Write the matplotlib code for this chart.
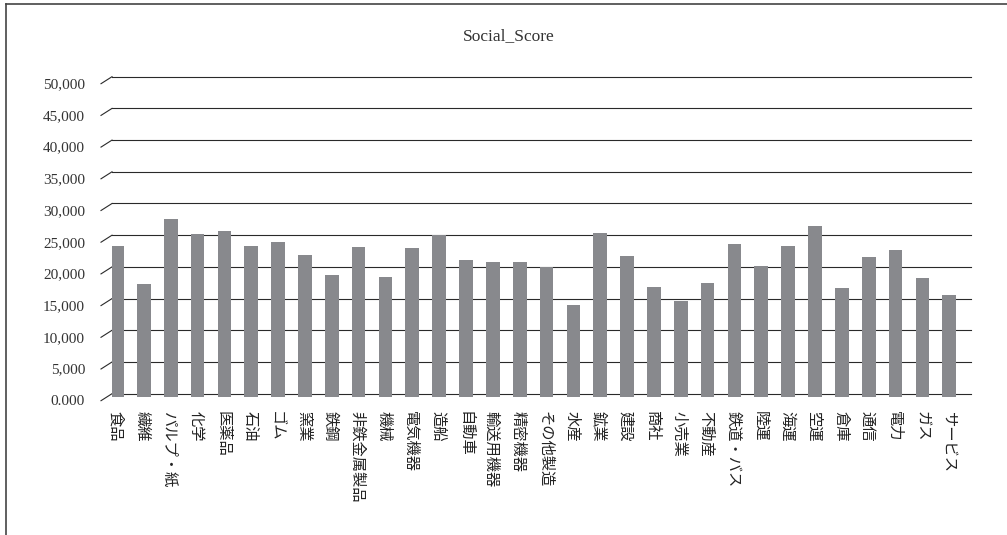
import matplotlib
matplotlib.use("Agg")
import matplotlib.pyplot as plt
from matplotlib.lines import Line2D
from matplotlib.transforms import offset_copy
import numpy as np

# Industry names and their social scores
industries = ["食品", "繊維", "パルプ・紙", "化学", "医薬品", "石油", "ゴム", "窯業",
              "鉄鋼", "非鉄金属製品", "機械", "電気機器", "造船", "自動車", "輸送用機器",
              "精密機器", "その他製造", "水産", "鉱業", "建設", "商社", "小売業", "不動産",
              "鉄道・バス", "陸運", "海運", "空運", "倉庫", "通信", "電力", "ガス", "サービス"]
social_score = [23.9, 17.9, 28.1, 25.7, 26.2, 23.9, 24.5, 22.5,
                19.3, 23.7, 19.0, 23.6, 25.6, 21.7, 21.4,
                21.4, 20.6, 14.6, 25.9, 22.3, 17.4, 15.2, 18.0,
                24.2, 20.7, 23.9, 27.0, 17.3, 22.1, 23.2, 18.8, 16.1]

y_ticks = [0, 5, 10, 15, 20, 25, 30, 35, 40, 45, 50]
y_tick_labels = ["0.000", "5,000", "10,000", "15,000", "20,000", "25,000",
                 "30,000", "35,000", "40,000", "45,000", "50,000"]

W, H = 1007, 535
fig = plt.figure(figsize=(W / 100, H / 100), dpi=100)

# back wall of the pseudo-3D chart, in pixels
ax_left, ax_right = 112, 971
zero_px = 397.4          # bar baseline from the top
px_per_unit = 6.34
y_top = 51
ax = fig.add_axes([ax_left / W, (H - zero_px) / H,
                   (ax_right - ax_left) / W, y_top * px_per_unit / H])
ax_w = ax_right - ax_left

x = np.arange(len(industries))
ax.bar(x, social_score, width=0.51, color="#88898d", zorder=3)
ax.set_xlim(-0.186, 31.81)
ax.set_ylim(0, y_top)

# gridlines sit on the back wall, a few pixels above the bars' plane
grid_tf = offset_copy(ax.get_yaxis_transform(), fig=fig, x=0, y=3.7, units="dots")
depth_x, depth_y = 11 / ax_w, 7 / px_per_unit
for v, lab in zip(y_ticks, y_tick_labels):
    ax.plot([0, 1], [v, v], color="#2a2a2a", lw=0.8, transform=grid_tf, zorder=1,
            clip_on=False)
    ax.plot([-depth_x, 0], [v - depth_y, v], color="#2a2a2a", lw=0.8,
            transform=grid_tf, clip_on=False)
    ax.text(-27 / ax_w, v - 8 / px_per_unit, lab, transform=grid_tf,
            ha="right", va="center", fontsize=11, family="Liberation Serif",
            color="#333333")

ax.set_yticks([])
ax.set_xticks(x - 0.05)
ax.set_xticklabels(industries, rotation=270, ha="center", va="top",
                   fontsize=11, family=["Noto Sans CJK JP", "DejaVu Sans"],
                   color="#222222")
ax.tick_params(axis="x", length=0, pad=10)
for s in ax.spines.values():
    s.set_visible(False)

fig.text(509 / W, 1 - 36 / H, "Social_Score", ha="center", va="center",
         fontsize=12.5, family="Liberation Serif", color="#333333")

# chart area border (left and top edges)
fig.add_artist(Line2D([6 / W, 6 / W], [0, 1 - 4 / H], color="#444444", lw=1.2))
fig.add_artist(Line2D([6 / W, 1], [1 - 4 / H, 1 - 4 / H], color="#444444", lw=1.2))

fig.savefig("out.png", dpi=100, facecolor="white")
